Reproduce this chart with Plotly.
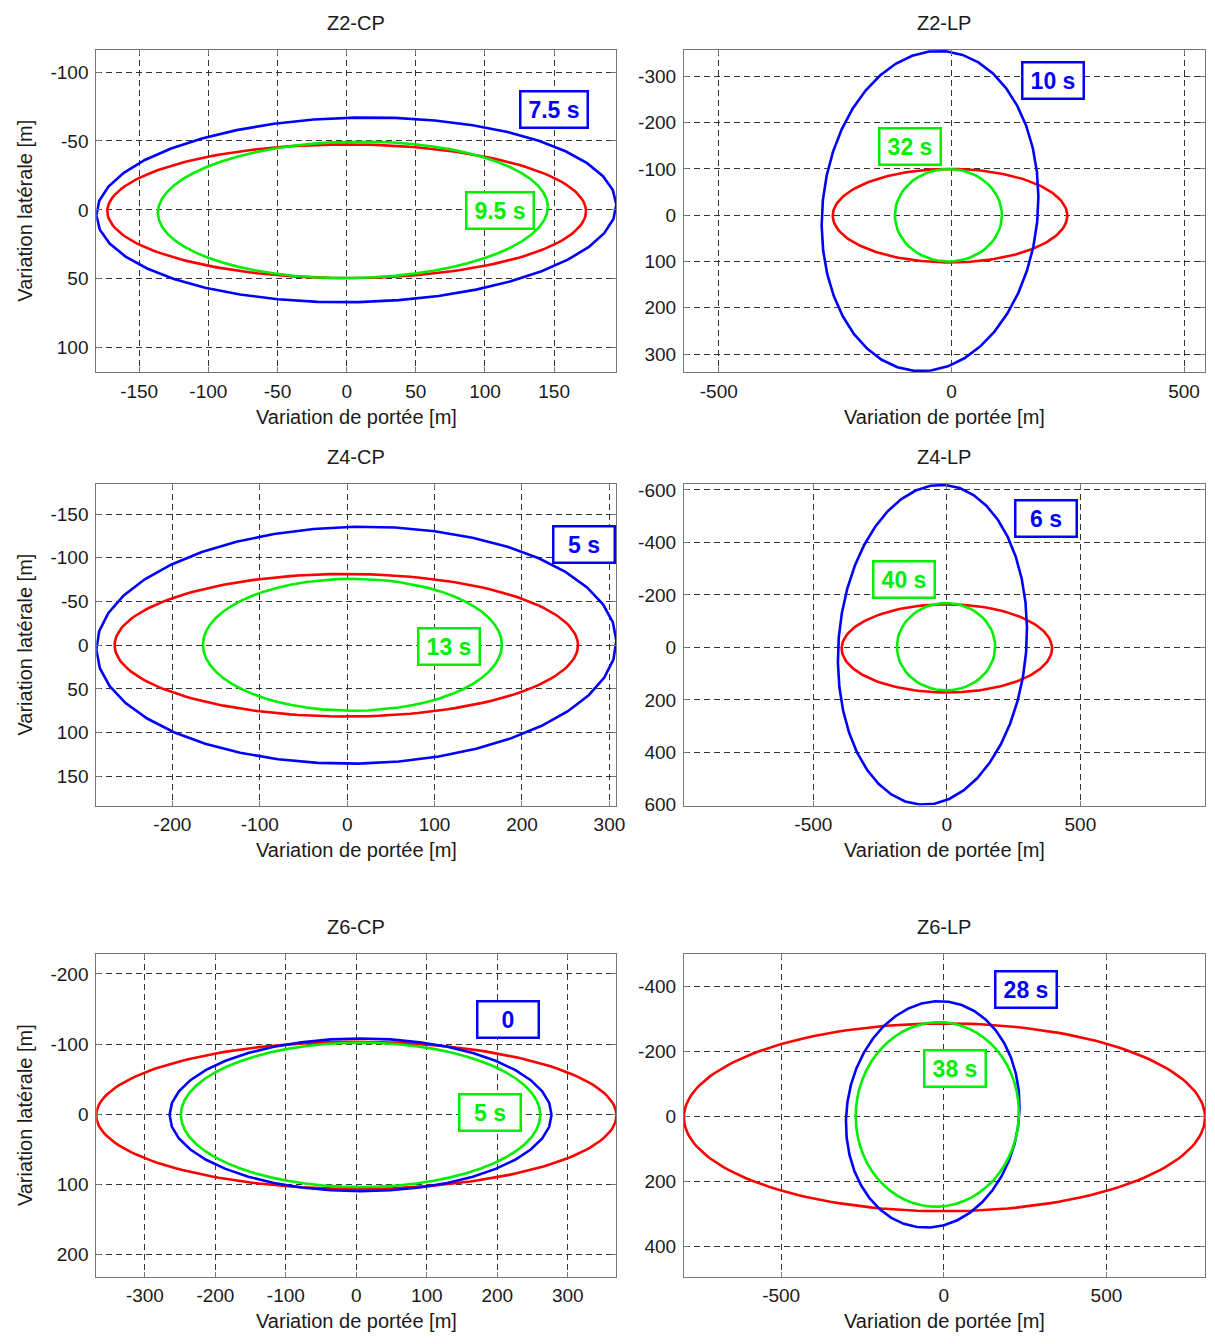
import numpy as np
import plotly.graph_objects as go

# ---------------- data ----------------
PANELS = ["Z2-CP", "Z2-LP", "Z4-CP", "Z4-LP", "Z6-CP", "Z6-LP"]

# ellipse parameters (centre, semi-axes, tilt in degrees) per panel
RED_CX = [0, -3, -1, 0, 0, 2]
RED_CY = [1, 1, 0, 4, 1.7, 2]
RED_RX = [173, 252, 265, 394, 369, 801]
RED_RY = [48.5, 101, 81.5, 168, 105, 289]
RED_TILT = [0, 0, 0, 0, 0, 0]

BLUE_CX = [7, -46, 10.5, -54, 6, -34]
BLUE_CY = [0, -9, 0, -10, 1, -7]
BLUE_RX = [188, 231.5, 297.5, 352, 271, 265]
BLUE_RY = [67, 347, 135.5, 611, 109, 350]
BLUE_TILT = [-1.2, 5.7, -1.0, 4.5, 0, 8]

GREEN_CX = [4.5, -6.5, 6, -3, 6, -20]
GREEN_CY = [0, 0, -0.5, -2.5, 1, -7]
GREEN_RX = [141, 115, 171, 184, 255, 250.6]
GREEN_RY = [49.5, 100, 75.5, 166.5, 103, 284]
GREEN_TILT = [-1.0, 0, 0, 0, 0, 4.5]

# box labels
BLUE_LABEL = ["7.5 s", "10 s", "5 s", "6 s", "0", "28 s"]
BLUE_LABEL_X = [150, 218, 271, 372, 214.6, 252]
BLUE_LABEL_Y = [-72.6, -292, -115.5, -490, -135.7, -391]
GREEN_LABEL = ["9.5 s", "32 s", "13 s", "40 s", "5 s", "38 s"]
GREEN_LABEL_X = [110.5, -89, 117, -160.6, 190, 34]
GREEN_LABEL_Y = [0.5, -148, 2, -257, -2.4, -149]

# axis ranges
X_MIN = [-181, -575, -287, -985, -369, -799]
X_MAX = [195, 545, 308, 967, 369, 803]
Y_MIN = [-116.4, -358, -184.5, -623, -228.5, -500.5]
Y_MAX = [117.8, 339, 183.4, 603, 231.8, 492]

# tick values
X_TICKS = [
    [-150, -100, -50, 0, 50, 100, 150],
    [-500, 0, 500],
    [-200, -100, 0, 100, 200, 300],
    [-500, 0, 500],
    [-300, -200, -100, 0, 100, 200, 300],
    [-500, 0, 500],
]
Y_TICKS = [
    [-100, -50, 0, 50, 100],
    [-300, -200, -100, 0, 100, 200, 300],
    [-150, -100, -50, 0, 50, 100, 150],
    [-600, -400, -200, 0, 200, 400, 600],
    [-200, -100, 0, 100, 200],
    [-400, -200, 0, 200, 400],
]

X_LABEL = "Variation de portée [m]"
Y_LABEL = "Variation latérale [m]"

# ---------------- styling ----------------
W, H = 1215, 1344
COL_PX = [(97, 621), (689, 1214)]
ROW_PX = [(46, 372), (485, 810), (960, 1286)]
FONT = "Liberation Sans, Arial, Helvetica, sans-serif"
TXT = "#1a1a1a"
RED, BLUE, GREEN = "#ff0000", "#0000ff", "#00ee00"


def ellipse(cx, cy, rx, ry, tilt_deg, n):
    t = np.linspace(0, 2 * np.pi, n)
    th = np.deg2rad(tilt_deg)
    x = cx + rx * np.cos(t) * np.cos(th) - ry * np.sin(t) * np.sin(th)
    y = cy + rx * np.cos(t) * np.sin(th) + ry * np.sin(t) * np.cos(th)
    return x, y


def px_x(p):
    return p / W


def px_y(p):
    return 1 - p / H


fig = go.Figure()
annotations = []
layout_axes = {}

for i, name in enumerate(PANELS):
    r, c = divmod(i, 2)
    k = i + 1
    xr = "x" if k == 1 else f"x{k}"
    yr = "y" if k == 1 else f"y{k}"
    x0, x1 = COL_PX[c]
    y0, y1 = ROW_PX[r]

    series = [
        (RED_CX, RED_CY, RED_RX, RED_RY, RED_TILT, RED, 181),
        (BLUE_CX, BLUE_CY, BLUE_RX, BLUE_RY, BLUE_TILT, BLUE, 41),
        (GREEN_CX, GREEN_CY, GREEN_RX, GREEN_RY, GREEN_TILT, GREEN, 61),
    ]
    for cxs, cys, rxs, rys, tilts, col, n in series:
        ex, ey = ellipse(cxs[i], cys[i], rxs[i], rys[i], tilts[i], n)
        fig.add_trace(go.Scatter(x=ex, y=ey, mode="lines", xaxis=xr, yaxis=yr,
                                 line=dict(color=col, width=2.6),
                                 showlegend=False, hoverinfo="skip"))

    axis_common = dict(
        showgrid=True, gridcolor="#333333", gridwidth=1, griddash="6px,4px",
        showline=True, linecolor="#777777", linewidth=1, mirror="ticks",
        ticks="inside", ticklen=5, tickcolor="#777777",
        zeroline=False,
        tickfont=dict(family=FONT, size=19, color=TXT),
    )
    layout_axes[f"xaxis{k}"] = dict(
        domain=[px_x(x0), px_x(x1)], range=[X_MIN[i], X_MAX[i]],
        tickvals=X_TICKS[i], ticktext=[str(v) for v in X_TICKS[i]],
        anchor=yr, ticklabelstandoff=2, **axis_common)
    layout_axes[f"yaxis{k}"] = dict(
        domain=[px_y(y1), px_y(y0)], range=[Y_MAX[i], Y_MIN[i]],
        tickvals=Y_TICKS[i], ticktext=[str(v) for v in Y_TICKS[i]],
        anchor=xr, ticklabelstandoff=3, **axis_common)

    xc = (x0 + x1) / 2
    # panel title
    annotations.append(dict(text=name, x=px_x(xc), y=px_y(y0 - 27), xref="paper", yref="paper",
                            xanchor="center", yanchor="middle", showarrow=False,
                            font=dict(family=FONT, size=20, color=TXT)))
    # x label
    annotations.append(dict(text=X_LABEL, x=px_x(xc), y=px_y(y1 + 45), xref="paper", yref="paper",
                            xanchor="center", yanchor="middle", showarrow=False,
                            font=dict(family=FONT, size=20, color=TXT)))
    if c == 0:
        annotations.append(dict(text=Y_LABEL, x=px_x(25), y=px_y((y0 + y1) / 2), xref="paper",
                                yref="paper", xanchor="center", yanchor="middle", textangle=-90,
                                showarrow=False, font=dict(family=FONT, size=20, color=TXT)))

    for txt, lx, ly, col in [(BLUE_LABEL[i], BLUE_LABEL_X[i], BLUE_LABEL_Y[i], BLUE),
                             (GREEN_LABEL[i], GREEN_LABEL_X[i], GREEN_LABEL_Y[i], GREEN)]:
        annotations.append(dict(text=txt, x=lx, y=ly, xref=xr, yref=yr, showarrow=False,
                                xanchor="center", yanchor="middle",
                                font=dict(family=FONT, size=23, color=col, weight="bold"),
                                bordercolor=col, borderwidth=2.5, borderpad=1, bgcolor="white",
                                width=63 if len(txt) > 4 else 57, height=32))

fig.update_layout(
    width=W, height=H, autosize=False,
    margin=dict(l=0, r=0, t=0, b=0),
    paper_bgcolor="white", plot_bgcolor="white",
    annotations=annotations,
    **layout_axes,
)

fig.write_html("out.html",
               config={"displayModeBar": False},
               post_script="document.body.style.margin='0';document.body.style.overflow='hidden';")
